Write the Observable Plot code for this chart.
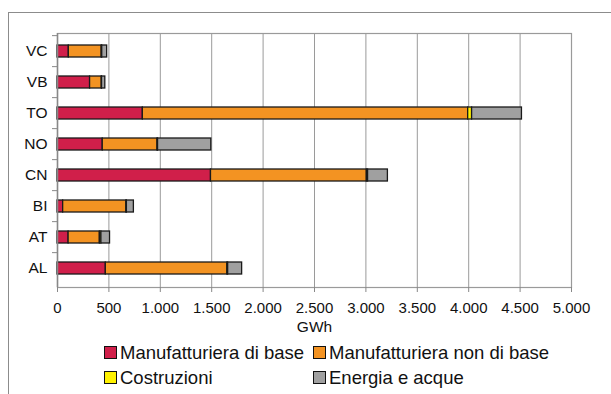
<!DOCTYPE html>
<html>
<head>
<meta charset="utf-8">
<script src="https://cdn.jsdelivr.net/npm/d3@7"></script>
<script src="https://cdn.jsdelivr.net/npm/@observablehq/plot@0.6"></script>
<style>
  html, body { margin: 0; padding: 0; background: #fff; }
  body { width: 611px; height: 394px; overflow: hidden; position: relative; font-family: "Liberation Sans", Arial, sans-serif; }
  #frame { position: absolute; left: 8px; top: 12px; width: 700px; height: 500px; border-left: 1.5px solid #8c8c8c; border-top: 1.5px solid #8c8c8c; box-sizing: border-box; }
  #chart { position: absolute; left: 0; top: 0; }
  #legend { position: absolute; left: 104px; top: 340px; width: 440px; display: grid; grid-template-columns: 209px 230px; grid-auto-rows: 25px; font-size: 18.5px; line-height: 24px; color: #111; }
  .item { display: flex; align-items: center; white-space: nowrap; }
  .sw { width: 13px; height: 13px; border: 1.5px solid #111; margin-right: 3px; box-sizing: border-box; flex: none; }
</style>
</head>
<body>
<div id="frame"></div>
<div id="chart"></div>
<div id="legend"></div>
<script>
const provinces = ["VC", "VB", "TO", "NO", "CN", "BI", "AT", "AL"];
const series = ["Manufatturiera di base", "Manufatturiera non di base", "Costruzioni", "Energia e acque"];
const colors = ["#D01F4A", "#F39322", "#FFF200", "#A0A0A0"];
const manufBase    = [110, 317, 830, 440, 1493, 55, 108, 470];
const manufNonBase = [320, 114, 3165, 533, 1516, 615, 304, 1182];
const costruzioni  = [5, 2, 38, 5, 12, 5, 15, 8];
const energia      = [48, 32, 485, 518, 193, 68, 84, 136];
const xTicks = [0, 500, 1000, 1500, 2000, 2500, 3000, 3500, 4000, 4500, 5000];

const valuesBySeries = [manufBase, manufNonBase, costruzioni, energia];
const data = [];
series.forEach((s, i) => provinces.forEach((p, j) => data.push({province: p, series: s, value: valuesBySeries[i][j]})));

const fmt = d => d3.format(",")(d).replace(/,/g, ".");

const chart = Plot.plot({
  width: 611,
  height: 336,
  marginLeft: 57,
  marginRight: 40,
  marginTop: 33,
  marginBottom: 49,
  style: {fontFamily: "'Liberation Sans', Arial, sans-serif", color: "#111", background: "transparent"},
  x: {domain: [0, 5000], ticks: xTicks, tickFormat: fmt},
  y: {domain: provinces, paddingInner: 0.6, paddingOuter: 0.3},
  color: {domain: series, range: colors},
  marks: [
    Plot.gridX(xTicks, {stroke: "#9a9a9a", strokeOpacity: 1, strokeWidth: 1}),
    Plot.frame({stroke: "#9a9a9a", strokeWidth: 1.2}),
    Plot.barX(data, Plot.stackX({
      x: "value", y: "province", fill: "series", order: series,
      stroke: "#1a1a1a", strokeWidth: 1.3
    })),
    Plot.axisX({ticks: xTicks, tickFormat: fmt, tickSize: 5, tickPadding: 10, stroke: "#888", fontSize: 15, label: null}),
    Plot.text(["GWh"], {frameAnchor: "bottom", dy: 44, text: d => d, fontSize: 15.5}),
    Plot.axisY({tickSize: 0, tickPadding: 10, fontSize: 15.5, label: null}),
    Plot.axisY({tickSize: 5, tickFormat: () => "", dy: -15.875, stroke: "#888", label: null}),
    Plot.ruleX([0], {stroke: "#888", strokeWidth: 1.5})
  ]
});
document.getElementById("chart").appendChild(chart);

const legend = document.getElementById("legend");
series.forEach((s, i) => {
  const item = document.createElement("div");
  item.className = "item";
  const sw = document.createElement("span");
  sw.className = "sw";
  sw.style.background = colors[i];
  const t = document.createElement("span");
  t.textContent = s;
  item.appendChild(sw);
  item.appendChild(t);
  legend.appendChild(item);
});
</script>
</body>
</html>
